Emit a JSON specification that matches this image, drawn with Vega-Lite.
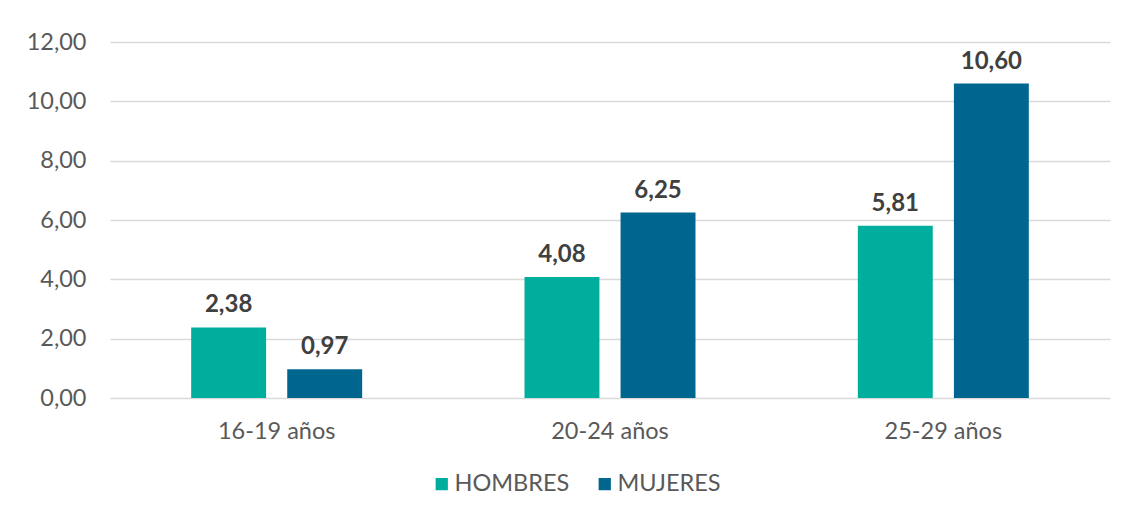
{
  "$schema": "https://vega.github.io/schema/vega-lite/v6.json",
  "width": 1000,
  "height": 356,
  "autosize": {"type": "none"},
  "padding": {"left": 110, "top": 42, "right": 20, "bottom": 113},
  "background": "white",
  "data": {"values": [
    {"grupo": "16-19 años", "sexo": "HOMBRES", "v": 2.38},
    {"grupo": "16-19 años", "sexo": "MUJERES", "v": 0.97},
    {"grupo": "20-24 años", "sexo": "HOMBRES", "v": 4.08},
    {"grupo": "20-24 años", "sexo": "MUJERES", "v": 6.25},
    {"grupo": "25-29 años", "sexo": "HOMBRES", "v": 5.81},
    {"grupo": "25-29 años", "sexo": "MUJERES", "v": 10.60}
  ]},
  "config": {
    "font": "Lato",
    "view": {"stroke": null},
    "axis": {"labelFont": "Lato", "labelColor": "#595959", "labelFontSize": 23.5, "title": null, "domain": false, "ticks": false},
    "legend": {"labelFont": "Lato", "labelColor": "#595959", "labelFontSize": 23.5}
  },
  "encoding": {
    "x": {"field": "grupo", "type": "nominal", "scale": {"paddingInner": 0, "paddingOuter": 0},
      "axis": {"labelAngle": 0, "labelPadding": 21, "grid": false}},
    "xOffset": {"field": "sexo", "type": "nominal", "scale": {"paddingInner": 0.22, "paddingOuter": 0.845}},
    "y": {"field": "v", "type": "quantitative", "scale": {"domain": [0, 12]},
      "axis": {"values": [0, 2, 4, 6, 8, 10, 12], "labelPadding": 24, "gridColor": "#d9d9d9", "gridWidth": 1.5,
        "labelExpr": "replace(format(datum.value, '.2f'), '.', ',')"}}
  },
  "layer": [
    {
      "mark": {"type": "bar"},
      "encoding": {
        "color": {"field": "sexo", "type": "nominal",
          "scale": {"domain": ["HOMBRES", "MUJERES"], "range": ["#00ae9d", "#00668f"]},
          "legend": {"title": null, "orient": "none", "direction": "horizontal", "legendX": 320, "legendY": 430,
            "symbolType": "square", "symbolSize": 150, "columnPadding": 23, "labelOffset": 1}}
      }
    },
    {
      "mark": {"type": "text", "fontWeight": "bold", "fontSize": 24, "color": "#404040", "baseline": "alphabetic", "dy": -15,
        "text": {"expr": "replace(format(datum.v, '.2f'), '.', ',')"}}
    }
  ]
}
